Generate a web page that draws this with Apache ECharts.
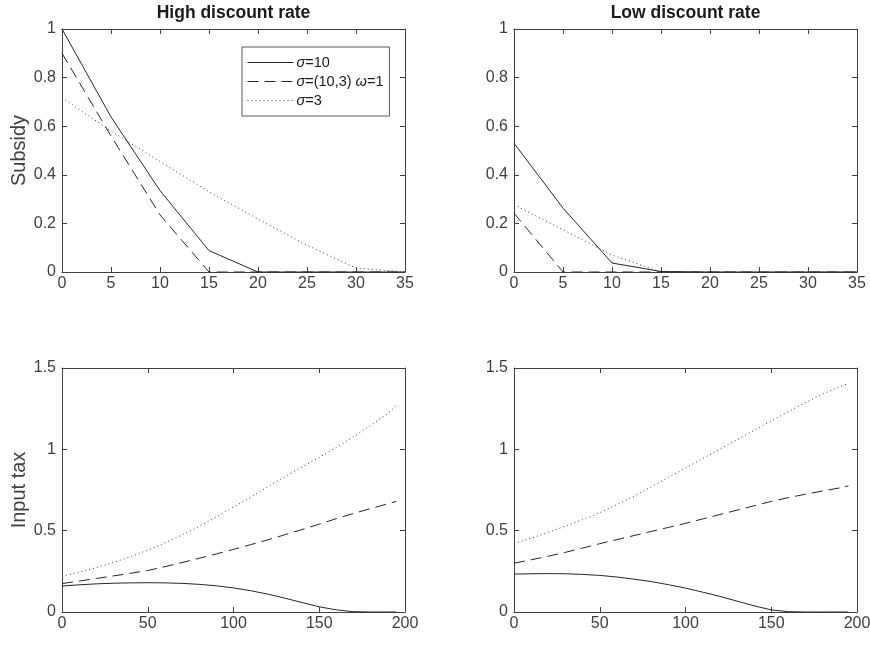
<!DOCTYPE html>
<html>
<head>
<meta charset="utf-8">
<script src="https://cdn.jsdelivr.net/npm/echarts@6/dist/echarts.min.js"></script>
<style>
html, body { margin: 0; padding: 0; background: #ffffff; }
#chart { width: 870px; height: 645px; }
</style>
</head>
<body>
<div id="chart"></div>
<script>
// subsidy panels (top row)
const subsidyX = [0, 5, 10, 15, 20, 25, 30, 35]
const highSubsidySigma10 = [1.0, 0.638, 0.335, 0.088, 0, 0, 0, 0]
const highSubsidyMixed = [0.9, 0.56, 0.235, 0, 0, 0, 0, 0]
const highSubsidySigma3 = [0.717, 0.58, 0.455, 0.33, 0.218, 0.11, 0.016, 0]
const lowSubsidySigma10 = [0.53, 0.263, 0.037, 0.002, 0, 0, 0, 0]
const lowSubsidyMixed = [0.242, 0, 0, 0, 0, 0, 0, 0]
const lowSubsidySigma3 = [0.277, 0.174, 0.07, 0, 0, 0, 0, 0]

// input tax panels (bottom row)
const taxX = [0, 10, 20, 30, 40, 50, 60, 70, 80, 90, 100, 110, 120, 130, 140, 150, 160, 170, 180, 190, 195]
const highTaxSigma10 = [0.160, 0.167, 0.173, 0.177, 0.179, 0.180, 0.179, 0.176, 0.170, 0.161, 0.148, 0.131, 0.110, 0.085, 0.058, 0.032, 0.013, 0.002, 0, 0, 0]
const highTaxMixed = [0.175, 0.190, 0.206, 0.222, 0.238, 0.255, 0.279, 0.304, 0.330, 0.357, 0.385, 0.414, 0.444, 0.475, 0.507, 0.540, 0.574, 0.606, 0.636, 0.665, 0.680]
const highTaxSigma3 = [0.22, 0.245, 0.273, 0.305, 0.34, 0.38, 0.425, 0.474, 0.527, 0.584, 0.645, 0.705, 0.77, 0.832, 0.892, 0.95, 1.013, 1.077, 1.148, 1.22, 1.27]
const lowTaxSigma10 = [0.233, 0.235, 0.236, 0.235, 0.231, 0.225, 0.215, 0.202, 0.187, 0.168, 0.147, 0.122, 0.096, 0.067, 0.038, 0.013, 0.002, 0, 0, 0, 0]
const lowTaxMixed = [0.300, 0.321, 0.343, 0.367, 0.393, 0.420, 0.445, 0.470, 0.495, 0.520, 0.545, 0.572, 0.599, 0.626, 0.653, 0.680, 0.703, 0.724, 0.744, 0.763, 0.775]
const lowTaxSigma3 = [0.42, 0.453, 0.49, 0.528, 0.568, 0.61, 0.66, 0.712, 0.77, 0.827, 0.885, 0.943, 1.001, 1.059, 1.117, 1.175, 1.232, 1.288, 1.34, 1.385, 1.405]

const seriesNames = ['σ=10', 'σ=(10,3) ω=1', 'σ=3']
const titles = ['High discount rate', 'Low discount rate']

const FONT = '"Liberation Sans", Arial, Helvetica, sans-serif'
const AXIS_COLOR = '#404040'
const LINE_COLOR = '#262626'
const lineTypes = ['solid', [11, 6], [1, 3]]
const lineColors = [LINE_COLOR, LINE_COLOR, '#3a3a3a']

const grids = [
    { left: 62, top: 29, width: 343, height: 243 },
    { left: 514, top: 29, width: 343, height: 243 },
    { left: 62, top: 368, width: 343, height: 244 },
    { left: 514, top: 368, width: 343, height: 244 }
]

function pairs(xs, ys){
    return xs.map((x, i) => [x, ys[i]])
}

function createXAxis(gridIndex, max, interval, position){
    const bottom = position === 'bottom'
    return {
        type: 'value',
        gridIndex: gridIndex,
        position: position,
        min: 0,
        max: max,
        interval: interval,
        axisLine: { show: true, onZero: false, lineStyle: { color: AXIS_COLOR, width: 1 } },
        axisTick: { show: true, inside: true, length: 5, lineStyle: { color: AXIS_COLOR } },
        axisLabel: { show: bottom, color: AXIS_COLOR, fontSize: 16, fontFamily: FONT, margin: 4 },
        splitLine: { show: false }
    }
}

function createYAxis(gridIndex, max, interval, position, name){
    const left = position === 'left'
    return {
        type: 'value',
        gridIndex: gridIndex,
        position: position,
        min: 0,
        max: max,
        interval: interval,
        name: left ? name : '',
        nameLocation: 'middle',
        nameGap: 33,
        nameTextStyle: { color: AXIS_COLOR, fontSize: 20, fontFamily: FONT },
        axisLine: { show: true, onZero: false, lineStyle: { color: AXIS_COLOR, width: 1 } },
        axisTick: { show: true, inside: true, length: 5, lineStyle: { color: AXIS_COLOR } },
        axisLabel: { show: left, color: AXIS_COLOR, fontSize: 16, fontFamily: FONT, margin: 6 },
        splitLine: { show: false }
    }
}

function createSeries(panel, xs, values){
    return values.map((ys, k) => ({
        name: seriesNames[k],
        type: 'line',
        xAxisIndex: panel * 2,
        yAxisIndex: panel * 2,
        symbol: 'none',
        silent: true,
        lineStyle: { color: lineColors[k], width: 1, type: lineTypes[k] },
        itemStyle: { color: lineColors[k] },
        data: pairs(xs, ys)
    }))
}

const xAxes = [], yAxes = []
grids.forEach((g, i) => {
    const top = i < 2
    xAxes.push(createXAxis(i, top ? 35 : 200, top ? 5 : 50, 'bottom'))
    xAxes.push(createXAxis(i, top ? 35 : 200, top ? 5 : 50, 'top'))
    const yName = (i === 0) ? 'Subsidy' : (i === 2 ? 'Input tax' : '')
    yAxes.push(createYAxis(i, top ? 1 : 1.5, top ? 0.2 : 0.5, 'left', yName))
    yAxes.push(createYAxis(i, top ? 1 : 1.5, top ? 0.2 : 0.5, 'right', ''))
})

const series = [].concat(
    createSeries(0, subsidyX, [highSubsidySigma10, highSubsidyMixed, highSubsidySigma3]),
    createSeries(1, subsidyX, [lowSubsidySigma10, lowSubsidyMixed, lowSubsidySigma3]),
    createSeries(2, taxX, [highTaxSigma10, highTaxMixed, highTaxSigma3]),
    createSeries(3, taxX, [lowTaxSigma10, lowTaxMixed, lowTaxSigma3])
)

const options = {
    backgroundColor: '#ffffff',
    animation: false,
    title: titles.map((t, i) => ({
        text: t,
        left: grids[i].left + grids[i].width / 2,
        top: 4,
        padding: 0,
        textAlign: 'center',
        textStyle: { color: '#1a1a1a', fontWeight: 'bold', fontSize: 17.5, fontFamily: FONT }
    })),
    legend: {
        orient: 'vertical',
        left: 242,
        top: 47,
        padding: [8, 6, 8, 5],
        itemWidth: 46,
        itemHeight: 14,
        itemGap: 4,
        borderColor: '#595959',
        borderWidth: 1,
        backgroundColor: '#ffffff',
        data: seriesNames,
        selectedMode: false,
        // hide the marker circle that line series put in their legend icon
        itemStyle: { opacity: 0 },
        lineStyle: { width: 1 },
        formatter: function(name){
            return name.replace('σ', '{i|σ}').replace('ω', '{i|ω}')
        },
        textStyle: {
            color: '#1a1a1a',
            fontSize: 14.5,
            lineHeight: 14,
            fontFamily: FONT,
            padding: [0, 0, 0, -2],
            rich: { i: { fontStyle: 'italic', fontSize: 14.5, lineHeight: 14, fontFamily: FONT, color: '#1a1a1a' } }
        }
    },
    grid: grids.map(g => Object.assign({ containLabel: false, outerBoundsMode: 'none' }, g)),
    xAxis: xAxes,
    yAxis: yAxes,
    series: series
}

const chart = echarts.init(document.getElementById('chart'))
chart.setOption(options)
</script>
</body>
</html>
